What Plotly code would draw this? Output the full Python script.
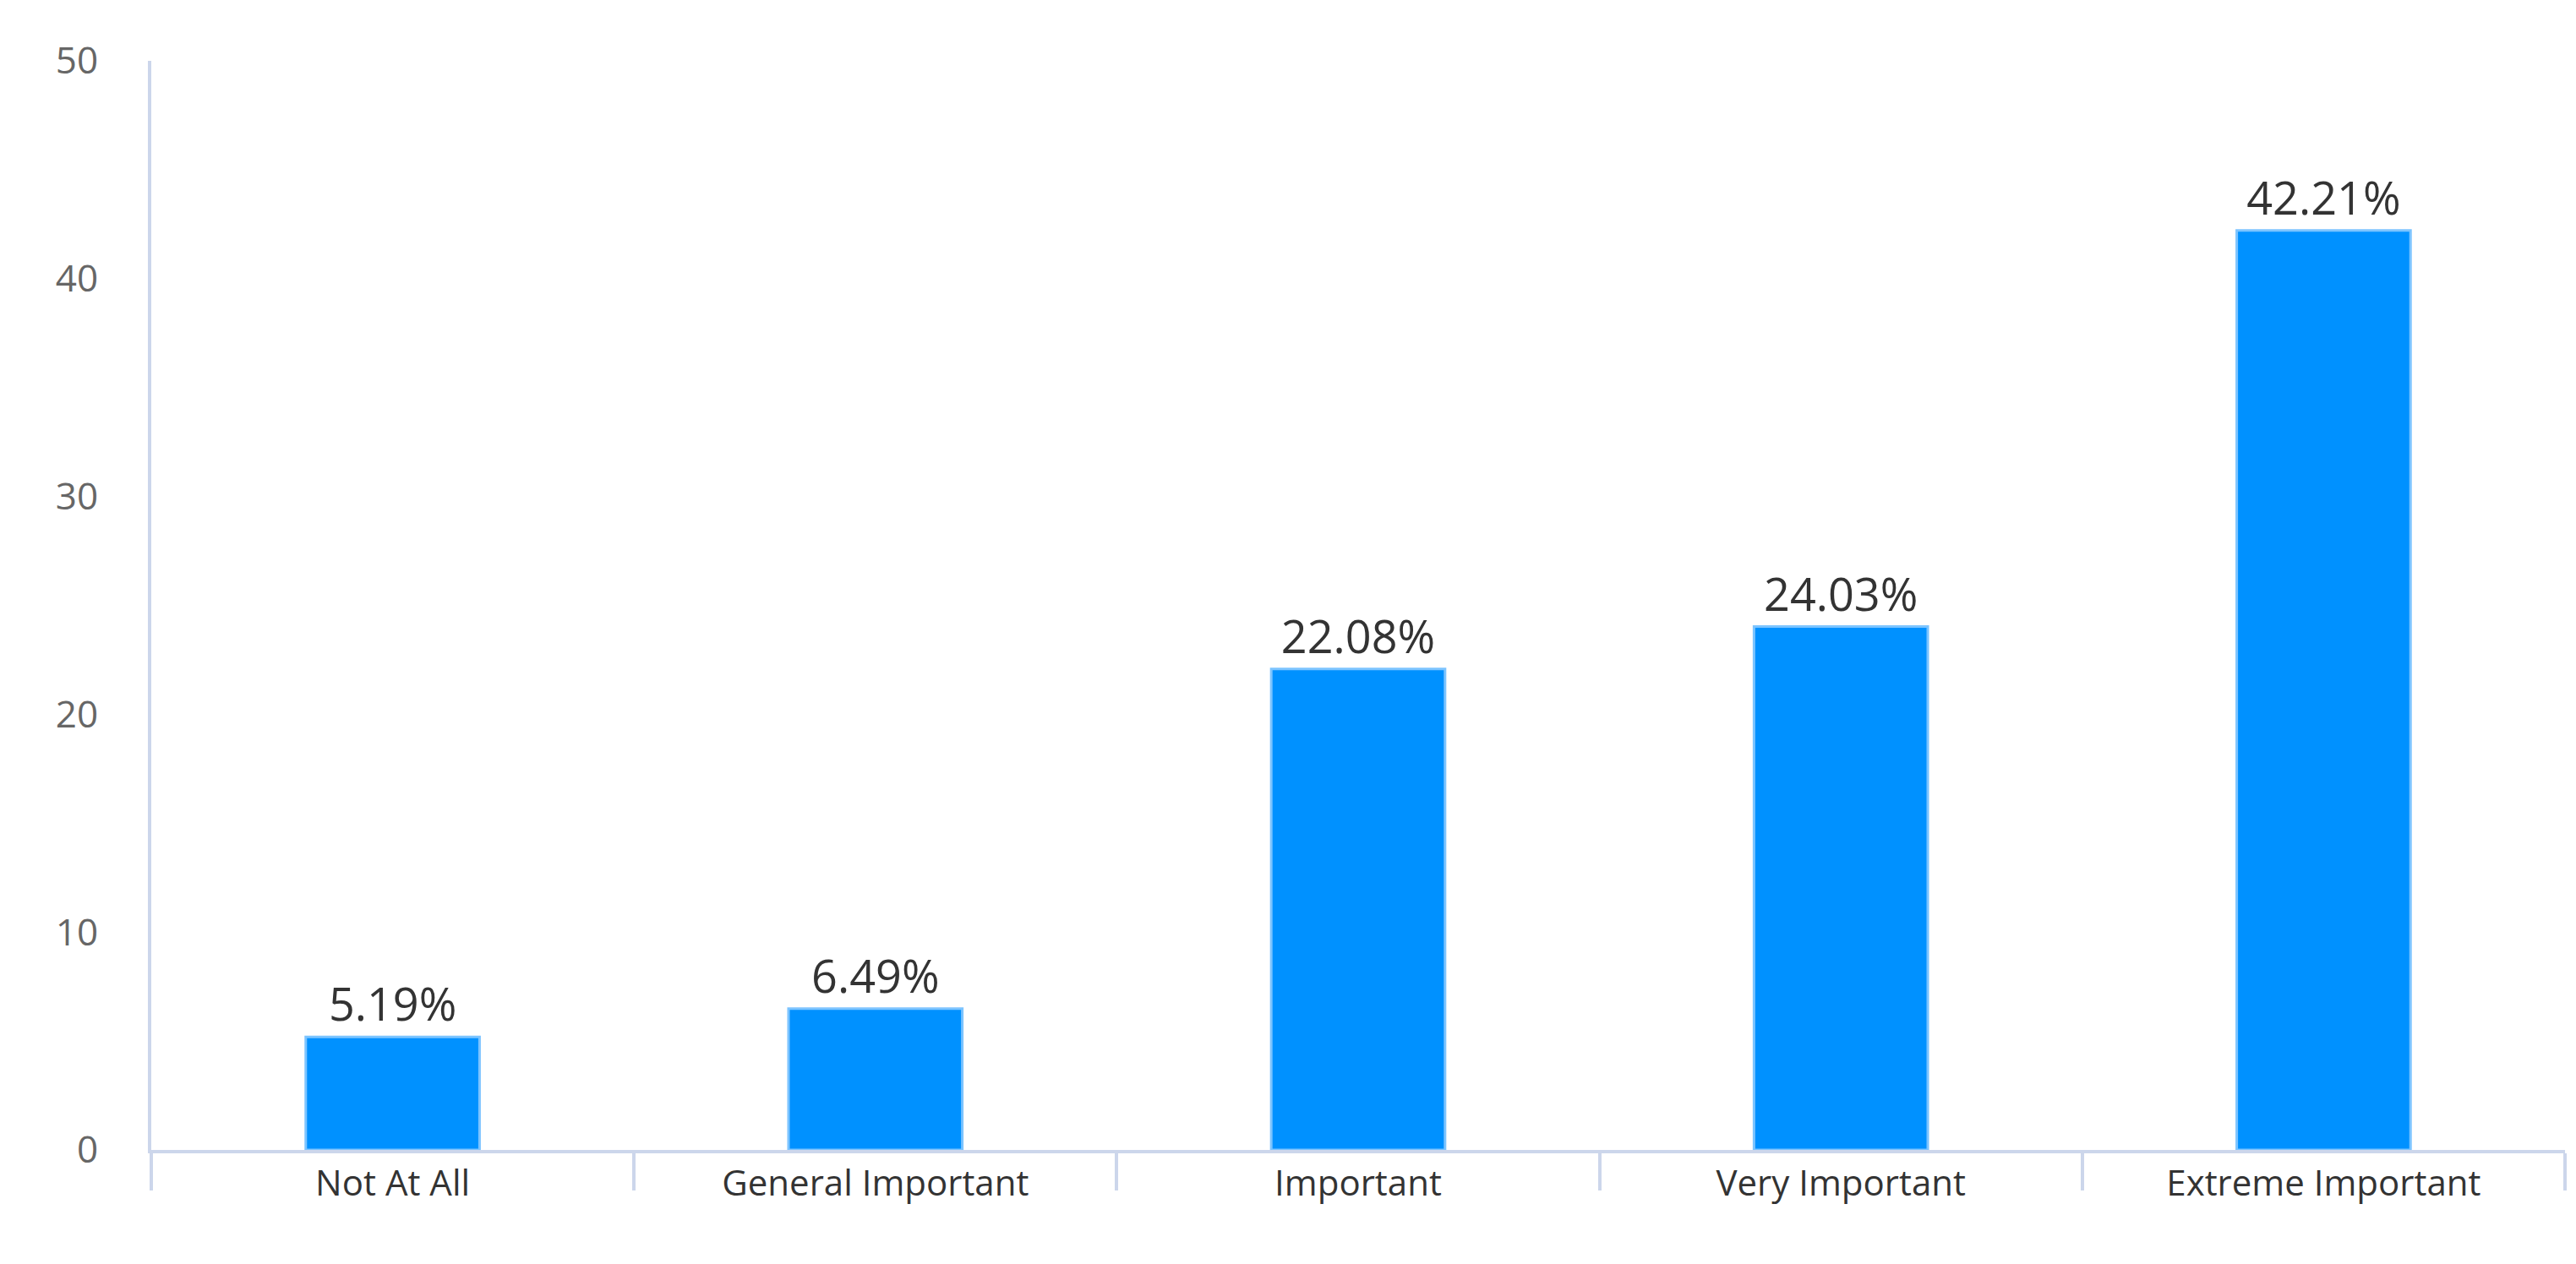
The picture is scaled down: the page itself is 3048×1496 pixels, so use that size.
import plotly.graph_objects as go

categories = ["Not At All", "General Important", "Important", "Very Important", "Extreme Important"]
values = [5.19, 6.49, 22.08, 24.03, 42.21]
labels = ["5.19%", "6.49%", "22.08%", "24.03%", "42.21%"]

fig = go.Figure(go.Bar(
    x=categories, y=values, text=labels, textposition="outside",
    marker=dict(color="#0091FF", line=dict(color="#7CC4FF", width=3)),
    width=0.36, cliponaxis=False,
    textfont=dict(size=54, color="#333333", family="Open Sans"),
))
fig.update_layout(
    width=3048, height=1496, plot_bgcolor="white", paper_bgcolor="white",
    margin=dict(l=171, r=21, t=64, b=143), showlegend=False,
    font=dict(family="Open Sans"),
)
fig.update_xaxes(showline=True, linecolor="#CCD6EB", linewidth=4, tickson="boundaries",
                 ticks="outside", ticklen=44, tickwidth=4, tickcolor="#CCD6EB",
                 tickfont=dict(size=42, color="#333333"), showgrid=False)
fig.update_yaxes(range=[0, 50], dtick=10, showline=True, linecolor="#CCD6EB", linewidth=4,
                 showgrid=False, zeroline=False, ticks="", ticklabelstandoff=50,
                 tickfont=dict(size=44, color="#666666"))
fig.write_html("out.html")
